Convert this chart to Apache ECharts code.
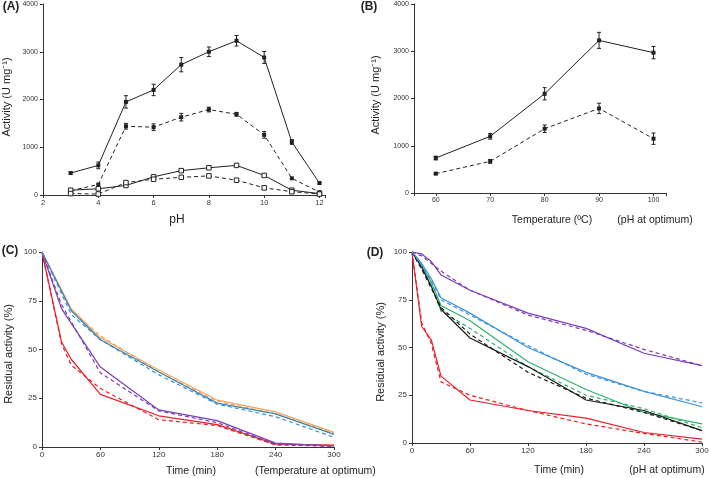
<!DOCTYPE html>
<html><head><meta charset="utf-8">
<script src="https://cdn.jsdelivr.net/npm/echarts@6/dist/echarts.min.js"></script>
<style>html,body{margin:0;padding:0;background:#fff}#c{width:709px;height:478px}</style>
</head><body><div id="c"></div>
<script>
// ---- Panel A (pH) ----
const phVals = [3,4,5,6,7,8,9,10,11,12];
const aSolidFilled = [460,620,1950,2200,2730,3000,3230,2880,1110,250];
const aSolidFilledErr = [20,70,130,120,150,100,110,125,50,20];
const aDashFilled = [90,220,1440,1420,1630,1790,1690,1260,350,60];
const aDashFilledErr = [0,0,60,70,80,50,40,70,0,0];
const aSolidOpen = [100,130,200,380,510,570,620,410,100,30];
const aDashOpen = [30,20,260,330,370,400,310,150,70,20];
// ---- Panel B (temperature) ----
const tempVals = [60,70,80,90,100];
const bSolid = [740,1200,2100,3230,2970];
const bSolidErr = [40,60,130,170,130];
const bDash = [410,670,1360,1790,1150];
const bDashErr = [20,40,80,110,120];
// ---- Panels C and D (time) ----
const timeVals = [0,10,20,30,60,120,180,240,300];
const cOrangeSolid = [100,null,null,71,56,39.5,24,18,7.5];
const cOrangeDash  = [100,null,null,70,57,38.5,23.5,17,7];
const cBlueSolid   = [100,null,null,70,55,38.5,22.5,17,6.5];
const cBlueDash    = [100,null,null,68,55,37,22,15.5,5];
const cPurpleSolid = [100,null,71,null,41,19,13.5,2,0.5];
const cPurpleDash  = [100,null,73,null,38,18.5,12.5,1.5,0.3];
const cRedSolid    = [100,null,54,45,27,16,11.5,1.5,1];
const cRedDash     = [100,null,53,42,30,14,11,1,0.5];

const dPurpleSolid = [100,99,95,88,80,68,60,47,40.5];
const dPurpleDash  = [100,98,94,90,80,67,59,49,40.5];
const dBlueSolid   = [100,94,86,76,68,50,37,27,19];
const dBlueDash    = [100,93,85,75,67,51,36,27,21];
const dGreenSolid  = [100,93,84,72,64,42.5,28,16,10];
const dGreenDash   = [100,92,82,69,60,40,25,18,8];
const dBlackSolid  = [100,92,82,70,55,40,22.5,17,6.5];
const dBlackDash   = [100,91,81,71,57,37,23.5,16,6.5];
const dRedSolid    = [100,61,54,35,22.5,17,13,5.5,2];
const dRedDash     = [100,63,52,32,25,17,10,5,0.5];

const FONT = 'Liberation Sans, Arial, sans-serif';
const AX = '#333';
const pairs = (xs, ys) => xs.map((x,i)=>[x, ys[i]]);
const errData = (xs, ys, es) => xs.map((x,i)=>[x, ys[i], es[i]]).filter(d=>d[2]>0);
const plainFmt = v => String(v);

function xAxisCfg(gi, min, max, interval, fs, fmt){
  const o = {type:'value', gridIndex:gi, min, max, splitLine:{show:false},
    axisLine:{lineStyle:{color:AX,width:1}}, axisTick:{length:3,lineStyle:{color:AX}},
    axisLabel:{fontSize:fs, color:'#333', fontFamily:FONT, margin:4, formatter:fmt || plainFmt}};
  if (interval) o.interval = interval;
  return o;
}
function yAxisCfg(gi, min, max, interval, fs){
  return {type:'value', gridIndex:gi, min, max, interval, splitLine:{show:false},
    axisLine:{show:true, lineStyle:{color:AX,width:1}}, axisTick:{show:true,length:3,lineStyle:{color:AX}},
    axisLabel:{fontSize:fs, color:'#333', fontFamily:FONT, margin:5, formatter:plainFmt}};
}
function lineS(gi, xs, ys, color, dashed, symbol, open, width){
  return {type:'line', xAxisIndex:gi, yAxisIndex:gi, data:pairs(xs,ys), connectNulls:true,
    symbol: symbol || 'none', symbolSize: open ? 4.5 : 4, showSymbol: !!symbol,
    lineStyle:{color, width: width||1, type: dashed ? [4,3] : 'solid'},
    itemStyle: open ? {color:'#fff', borderColor:'#222', borderWidth:1} : {color:color},
    emphasis:{disabled:true}, animation:false, z: open?3:2};
}
function errS(gi, xs, ys, es){
  return {type:'custom', xAxisIndex:gi, yAxisIndex:gi, data:errData(xs,ys,es), z:5, animation:false,
    renderItem:(params, api)=>{
      const x=api.value(0), y=api.value(1), e=api.value(2);
      const t=api.coord([x,y+e]), b=api.coord([x,y-e]);
      const st={stroke:'#222', lineWidth:1};
      return {type:'group', children:[
        {type:'line', shape:{x1:t[0],y1:t[1],x2:b[0],y2:b[1]}, style:st},
        {type:'line', shape:{x1:t[0]-2,y1:t[1],x2:t[0]+2,y2:t[1]}, style:st},
        {type:'line', shape:{x1:b[0]-2,y1:b[1],x2:b[0]+2,y2:b[1]}, style:st}
      ]};
    }};
}
const C_OR='#f2a45c', C_BL='#3d84b8', C_BL2='#3b93dc', C_PU='#7b3fb8', C_RE='#e8202a', C_GR='#2db36a', C_BK='#1a1a1a';

function txt(x,y,text,opts){
  return {type:'text', x, y, style:Object.assign({text, fill:'#222', font:'10.5px '+FONT, textAlign:'center', textVerticalAlign:'middle'}, opts||{})};
}
function vtxt(x,y,text){
  return {type:'text', x, y, rotation:Math.PI/2, style:{text, fill:'#222', font:'11px '+FONT, textAlign:'center', textVerticalAlign:'middle'}};
}

const intFmt = v => (Math.abs(v-Math.round(v))<1e-6 ? String(Math.round(v)) : '');
const tenFmt = v => (Math.abs(v%10)<1e-6 ? String(v) : '');

const option = {
  animation:false,
  grid:[
    {left:43, top:4, width:282, height:191, containLabel:false, outerBoundsMode:'none'},
    {left:414, top:4, width:252, height:189, containLabel:false, outerBoundsMode:'none'},
    {left:42, top:252, width:292, height:195, containLabel:false, outerBoundsMode:'none'},
    {left:412, top:252, width:290, height:191, containLabel:false, outerBoundsMode:'none'}
  ],
  xAxis:[
    xAxisCfg(0, 2, 12.2, 2, 7.5, intFmt),
    xAxisCfg(1, 56, 102.3, null, 7, tenFmt),
    xAxisCfg(2, 0, 300, 60, 8),
    xAxisCfg(3, 0, 300, 60, 8)
  ],
  yAxis:[
    yAxisCfg(0, 0, 4000, 1000, 7),
    yAxisCfg(1, 0, 4000, 1000, 7),
    yAxisCfg(2, 0, 100, 25, 8),
    yAxisCfg(3, 0, 100, 25, 8)
  ],
  series:[
    lineS(0, phVals, aSolidOpen, '#222', false, 'rect', true),
    lineS(0, phVals, aDashOpen, '#222', true, 'rect', true),
    lineS(0, phVals, aSolidFilled, '#222', false, 'rect', false),
    lineS(0, phVals, aDashFilled, '#222', true, 'rect', false),
    errS(0, phVals, aSolidFilled, aSolidFilledErr),
    errS(0, phVals, aDashFilled, aDashFilledErr),

    lineS(1, tempVals, bSolid, '#222', false, 'rect', false),
    lineS(1, tempVals, bDash, '#222', true, 'rect', false),
    errS(1, tempVals, bSolid, bSolidErr),
    errS(1, tempVals, bDash, bDashErr),

    lineS(2, timeVals, cRedDash, C_RE, true, null, false, 1.2),
    lineS(2, timeVals, cRedSolid, C_RE, false, null, false, 1.2),
    lineS(2, timeVals, cPurpleDash, C_PU, true, null, false, 1.2),
    lineS(2, timeVals, cPurpleSolid, C_PU, false, null, false, 1.2),
    lineS(2, timeVals, cOrangeDash, C_OR, true, null, false, 1.2),
    lineS(2, timeVals, cOrangeSolid, C_OR, false, null, false, 1.2),
    lineS(2, timeVals, cBlueDash, C_BL2, true, null, false, 1.2),
    lineS(2, timeVals, cBlueSolid, C_BL, false, null, false, 1.2),

    lineS(3, timeVals, dRedDash, C_RE, true, null, false, 1.2),
    lineS(3, timeVals, dRedSolid, C_RE, false, null, false, 1.2),
    lineS(3, timeVals, dGreenDash, C_GR, true, null, false, 1.2),
    lineS(3, timeVals, dGreenSolid, C_GR, false, null, false, 1.2),
    lineS(3, timeVals, dBlackDash, C_BK, true, null, false, 1.2),
    lineS(3, timeVals, dBlackSolid, C_BK, false, null, false, 1.2),
    lineS(3, timeVals, dBlueDash, C_BL2, true, null, false, 1.2),
    lineS(3, timeVals, dBlueSolid, C_BL2, false, null, false, 1.2),
    lineS(3, timeVals, dPurpleDash, C_PU, true, null, false, 1.2),
    lineS(3, timeVals, dPurpleSolid, C_PU, false, null, false, 1.2)
  ],
  graphic:[
    txt(11, 7, '(A)', {font:'bold 12px '+FONT}),
    txt(369, 7, '(B)', {font:'bold 12px '+FONT}),
    txt(10, 251, '(C)', {font:'bold 12px '+FONT}),
    txt(375, 253, '(D)', {font:'bold 12px '+FONT}),
    vtxt(7, 97, 'Activity (U mg⁻¹)'),
    vtxt(376, 95, 'Activity (U mg⁻¹)'),
    vtxt(9, 354, 'Residual activity (%)'),
    vtxt(381, 352, 'Residual activity (%)'),
    txt(177, 220, 'pH', {font:'12px '+FONT}),
    txt(552, 220, 'Temperature (ºC)'),
    txt(655, 220, '(pH at optimum)'),
    txt(191, 471, 'Time (min)'),
    txt(255, 471, '(Temperature at optimum)', {textAlign:'left'}),
    txt(559, 470, 'Time (min)'),
    txt(667, 470, '(pH at optimum)')
  ]
};
const chart = echarts.init(document.getElementById('c'), null, {renderer:'canvas'});
chart.setOption(option);
</script>
</body></html>
